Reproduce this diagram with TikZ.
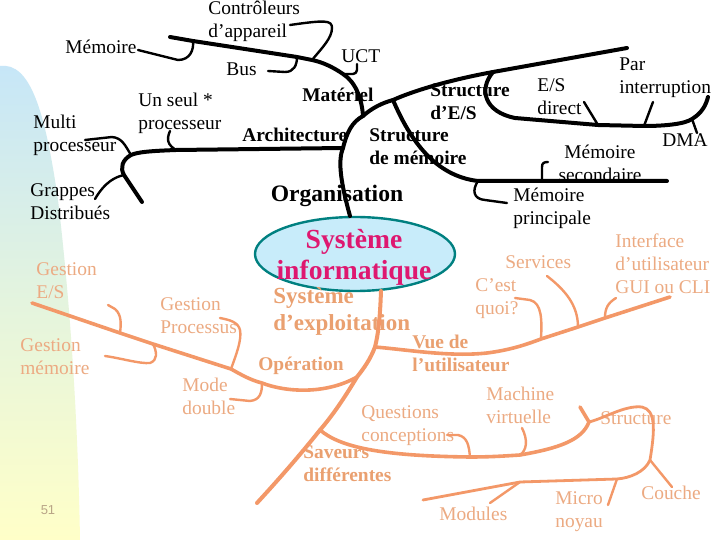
\documentclass[tikz,border=0pt]{standalone}
\usepackage{fontspec}
\setmainfont{Liberation Serif}
\setsansfont{Liberation Sans}
\usetikzlibrary{positioning, shapes.geometric}
\definecolor{branchorange}{RGB}{243,152,104}
\definecolor{labelorange}{RGB}{236,170,130}
\definecolor{boldorange}{RGB}{234,160,112}
\definecolor{ovalfill}{RGB}{200,236,250}
\definecolor{ovalline}{RGB}{0,128,128}
\definecolor{titlepink}{RGB}{222,24,112}
\definecolor{bandblue}{RGB}{198,230,248}
\definecolor{bandgreen}{RGB}{228,244,222}
\definecolor{bandyellow}{RGB}{255,255,200}
\definecolor{pagegray}{RGB}{185,165,135}
\tikzset{
  lbl/.style={anchor=west, align=left, inner sep=0pt, font=\fontsize{9.7}{11.6}\selectfont},
  lblb/.style={lbl, font=\fontsize{9.7}{11.6}\selectfont\bfseries},
  olbl/.style={lbl, text=labelorange},
  olblb/.style={lblb, text=boldorange},
  trunk/.style={line width=2pt, line cap=round, line join=round},
  twig/.style={line width=1.2pt, line cap=round, line join=round},
  otrunk/.style={trunk, draw=branchorange},
  otwig/.style={twig, draw=branchorange},
}

\begin{document}
\begin{tikzpicture}[x=0.5pt, y=-0.5pt]

    % Background
    \useasboundingbox (0,0) rectangle (720,540);
    \fill[white] (0,0) rectangle (720,540);
    \shade[top color=bandblue, bottom color=bandyellow, middle color=bandgreen]
        (0,540) -- (0,66) .. controls (30,62) and (45,110) .. (58,200)
        .. controls (70,300) and (78,420) .. (80,540) -- cycle;

    % Nodes
    \node (sysoval) [ellipse, draw=ovalline, fill=ovalfill, line width=1.2pt, minimum width=100pt, minimum height=37pt, inner sep=0pt] at (355,254) {};
    \node (sysinfo) [align=center, inner sep=0pt, text=titlepink, font=\fontsize{13.8}{15.5}\selectfont\bfseries] at (354,257) {Système\\informatique};
    \node (orga) [inner sep=0pt, font=\fontsize{11.8}{14}\selectfont\bfseries] at (337,196) {Organisation};

    \node (ctrl)     [lbl]  at (208,21)  {Contrôleurs\\d’appareil};
    \node (mem)      [lbl]  at (65,47)   {Mémoire};
    \node (bus)      [lbl]  at (226,69)  {Bus};
    \node (uct)      [lbl]  at (341,56)  {UCT};
    \node (unseul)   [lbl]  at (138,113) {Un seul *\\processeur};
    \node (multi)    [lbl]  at (33,135)  {Multi\\processeur};
    \node (grappes)  [lbl]  at (30,202)  {Grappes\\Distribués};
    \node (materiel) [lblb] at (302,95)  {Matériel};
    \node (archi)    [lblb] at (242,135) {Architecture};
    \node (stres)    [lblb] at (430,102) {Structure\\d’E/S};
    \node (strmem)   [lblb] at (369,147) {Structure\\de mémoire};
    \node (esdirect) [lbl]  at (537,97)  {E/S\\direct};
    \node (parint)   [lbl]  at (619,78)  {Par\\interruption};
    \node (dma)      [lbl]  at (662,140) {DMA};
    \node (memsec)   [lbl, anchor=center, align=center] at (600,163) {Mémoire\\secondaire};
    \node (memprinc) [lbl]  at (513,208) {Mémoire\\principale};

    \node (sysexp)    [olblb, font=\fontsize{11.5}{13.5}\selectfont\bfseries] at (273,311) {Système\\d’exploitation};
    \node (services)  [olbl]  at (505,262) {Services};
    \node (interface) [olbl]  at (615,264) {Interface\\d’utilisateur\\GUI ou CLI};
    \node (cestquoi)  [olbl]  at (475,299) {C’est\\quoi?};
    \node (gestes)    [olbl]  at (36,281)  {Gestion\\E/S};
    \node (gestproc)  [olbl]  at (160,316) {Gestion\\Processus};
    \node (gestmem)   [olbl]  at (20,357)  {Gestion\\mémoire};
    \node (vue)       [olblb] at (412,353) {Vue de\\l’utilisateur};
    \node (operation) [olblb] at (258,366) {Opération};
    \node (mode)      [olbl]  at (182,396) {Mode\\double};
    \node (machine)   [olbl]  at (486,405) {Machine\\virtuelle};
    \node (questions) [olbl]  at (361,426) {Questions\\conceptions};
    \node (structure) [olbl]  at (600,418) {Structure};
    \node (saveurs)   [olblb] at (303,464) {Saveurs\\différentes};
    \node (couche)    [olbl]  at (641,493) {Couche};
    \node (modules)   [olbl]  at (439,514) {Modules};
    \node (micro)     [olbl]  at (555,512) {Micro\\noyau};
    \node (pagenum)   [inner sep=0pt, text=pagegray, font=\sffamily\fontsize{6.5}{8}\selectfont] at (48,510) {51};

    % Junctions and free ends
    \coordinate (orgtop) at (350,216);
    \coordinate (jarch) at (343,148);
    \coordinate (jmat) at (363,116);
    \coordinate (jstr) at (393,100);
    \coordinate (jio) at (493,72);
    \coordinate (stemend) at (627,48);
    \coordinate (juct) at (343,74);
    \coordinate (jctrl) at (312,60);
    \coordinate (jbus) at (297,57);
    \coordinate (jmemo) at (193,41);
    \coordinate (matend) at (170,37);
    \coordinate (junseul) at (176,150);
    \coordinate (jmulti) at (131,155);
    \coordinate (jgrap) at (124,175);
    \coordinate (archend) at (142,202);
    \coordinate (jesd) at (598,125);
    \coordinate (jpar) at (644,126);
    \coordinate (jdma) at (692,119);
    \coordinate (ioend) at (708,97);
    \coordinate (jmprinc) at (478,181);
    \coordinate (jmsec) at (542,181);
    \coordinate (strmemend) at (667,181);

    \coordinate (setop) at (381,291);
    \coordinate (jvue) at (375,347);
    \coordinate (jop) at (357,377);
    \coordinate (jsav) at (320,430);
    \coordinate (seend) at (257,503);
    \coordinate (jcest) at (541,339);
    \coordinate (jserv) at (578,327);
    \coordinate (jint) at (605,318);
    \coordinate (vueend) at (670,297);
    \coordinate (jmode) at (262,383);
    \coordinate (jproc) at (231,369);
    \coordinate (jgmem) at (153,344);
    \coordinate (jges) at (120,333);
    \coordinate (opend) at (32,303);
    \coordinate (jquest) at (470,457);
    \coordinate (jmach) at (520,455);
    \coordinate (jstruct) at (589,422);
    \coordinate (savend) at (580,407);
    \coordinate (jcouche) at (650,460);
    \coordinate (jmicro) at (617,479);
    \coordinate (jmod) at (520,482);
    \coordinate (structend) at (423,500);

    % Connectors (Organisation)
    \draw [trunk] (orgtop) .. controls (340,180) and (338,160) .. (jarch)
        .. controls (347,132) and (352,122) .. (jmat)
        .. controls (372,108) and (382,103) .. (jstr)
        .. controls (420,88) and (460,78) .. (jio) -- (stemend);
    \draw [trunk] (jmat) .. controls (362,100) and (356,82) .. (juct)
        .. controls (333,67) and (322,62) .. (jctrl) -- (jbus) -- (jmemo) -- (matend);
    \draw [trunk] (jarch) -- (junseul) .. controls (150,151) and (138,152) .. (jmulti)
        .. controls (122,160) and (120,168) .. (jgrap) -- (archend);
    \draw [trunk] (jio) .. controls (478,90) and (485,112) .. (515,118) -- (jesd) -- (jpar)
        .. controls (665,126) and (685,124) .. (jdma) .. controls (702,113) and (706,105) .. (ioend);
    \draw [trunk] (jstr) .. controls (410,140) and (435,176) .. (jmprinc) -- (jmsec) -- (strmemend);

    \draw [twig] (jmemo) .. controls (194,50) and (190,60) .. (178,60) -- (138,50);
    \draw [twig] (jctrl) .. controls (322,48) and (332,38) .. (332,28) .. controls (332,20) and (325,20) .. (290,25);
    \draw [twig] (jbus) .. controls (297,65) and (294,72) .. (285,72) -- (268,71);
    \draw [twig, rounded corners=2pt] (juct) -- (357,74) -- (357,64);
    \draw [twig] (junseul) .. controls (168,145) and (166,140) .. (170,131);
    \draw [twig] (jmulti) .. controls (125,145) and (122,138) .. (112,137) -- (85,140);
    \draw [twig] (jgrap) .. controls (115,177) and (105,182) .. (95,199);
    \draw [twig] (jesd) -- (584,102);
    \draw [twig] (jpar) -- (653,102);
    \draw [twig] (jdma) -- (697,133);
    \draw [twig] (jmsec) -- (542,167) .. controls (542,163) and (544,162) .. (548,162);
    \draw [twig] (jmprinc) .. controls (472,190) and (473,199) .. (485,200) -- (507,203);

    % Connectors (Systeme d'exploitation)
    \draw [otrunk] (setop) .. controls (380,320) and (378,335) .. (jvue)
        .. controls (370,360) and (364,368) .. (jop)
        .. controls (345,397) and (333,415) .. (jsav)
        .. controls (300,455) and (280,478) .. (seend);
    \draw [otrunk, line width=1.8pt] (jvue) .. controls (410,350) and (450,357) .. (487,353)
        .. controls (510,350) and (525,345) .. (jcest) -- (jserv) -- (jint) -- (vueend);
    \draw [otrunk, line width=1.8pt] (jop) .. controls (325,395) and (285,392) .. (jmode)
        .. controls (250,380) and (240,374) .. (jproc) -- (jgmem) -- (jges) -- (opend);
    \draw [otrunk, line width=1.8pt] (jsav) .. controls (340,447) and (380,456) .. (jquest)
        .. controls (490,457) and (505,456) .. (jmach)
        .. controls (560,448) and (582,440) .. (jstruct) -- (savend);
    \draw [otrunk, line width=1.4pt] (jstruct) .. controls (605,418) and (625,405) .. (642,407)
        .. controls (656,410) and (655,430) .. (jcouche)
        .. controls (645,472) and (630,478) .. (jmicro) -- (jmod) -- (structend);

    \draw [otwig] (jcest) .. controls (542,320) and (542,303) .. (530,300) -- (515,298);
    \draw [otwig] (jserv) .. controls (578,305) and (565,290) .. (547,276);
    \draw [otwig] (jint) .. controls (605,308) and (608,303) .. (616,298);
    \draw [otwig] (jmode) .. controls (262,393) and (260,400) .. (250,401) -- (230,399);
    \draw [otwig] (jproc) .. controls (236,355) and (242,340) .. (240,330) .. controls (238,322) and (230,320) .. (220,318);
    \draw [otwig] (jgmem) .. controls (157,352) and (158,360) .. (150,363) .. controls (140,364) and (120,358) .. (105,356);
    \draw [otwig] (jges) .. controls (121,325) and (122,315) .. (115,309) -- (108,305);
    \draw [otwig] (jquest) .. controls (469,447) and (468,437) .. (458,435) -- (447,435);
    \draw [otwig] (jmach) .. controls (527,450) and (528,440) .. (522,428);
    \draw [otwig] (jcouche) -- (672,487);
    \draw [otwig] (jmicro) -- (608,505);
    \draw [otwig] (jmod) -- (490,503);

\end{tikzpicture}
\end{document}
